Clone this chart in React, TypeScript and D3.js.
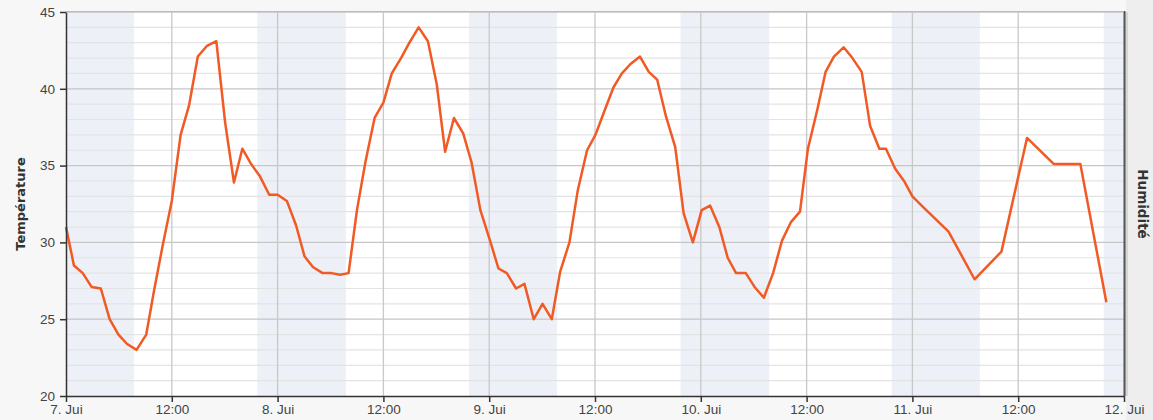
import React, { useEffect, useRef } from 'react'
import { select, scaleLinear, scaleTime, axisLeft, axisBottom, line, range } from 'd3'

// hours after 7. Jui 00:00
const hours = [
  0, 0.9, 1.9, 2.9, 3.95, 4.95, 5.95, 6.9, 8, 9.1, 10, 11, 12, 13, 13.95, 14.95, 16, 17.05, 18.05, 19.05,
  20, 21, 22, 23.05, 24, 25.05, 26.1, 27.05, 28, 29.1, 30.1, 31.1, 32.05, 33, 33.95, 35, 36, 36.95, 38, 38.95,
  40, 41.05, 42.05, 43, 44, 45.05, 46, 47, 48.05, 49.05, 50, 51.05, 52, 53.05, 54.05, 55.1, 56.05, 57.1, 58.05, 59.1,
  60.05, 61.1, 62.1, 63.05, 64, 65.1, 66.1, 67.05, 68.05, 69.1, 70.05, 71.1, 72.1, 73.05, 74.1, 75.05, 76, 77.1, 78.1, 79.15,
  80.2, 81.2, 82.2, 83.25, 84.15, 85.2, 86.15, 87.1, 88.2, 89.2, 90.25, 91.2, 92.25, 93, 94.05, 95.05, 96, 97.05, 100.1, 103.05,
  106.1, 109, 112.05, 115.05, 118
]
const temps = [
  31.0, 28.5, 28.0, 27.1, 27.0, 25.0, 24.0, 23.4, 23.0, 24.0, 26.9, 29.9, 32.7, 37.0, 38.9, 42.1, 42.8, 43.1, 37.8, 33.9,
  36.1, 35.1, 34.3, 33.1, 33.1, 32.7, 31.1, 29.1, 28.4, 28.0, 28.0, 27.9, 28.0, 32.1, 35.2, 38.1, 39.1, 41.0, 42.0, 43.0,
  44.0, 43.1, 40.3, 35.9, 38.1, 37.1, 35.2, 32.1, 30.2, 28.3, 28.0, 27.0, 27.3, 25.0, 26.0, 25.0, 28.1, 30.0, 33.4, 36.0,
  37.0, 38.6, 40.1, 41.0, 41.6, 42.1, 41.1, 40.6, 38.2, 36.2, 31.9, 30.0, 32.1, 32.4, 31.0, 29.0, 28.0, 28.0, 27.1, 26.4,
  28.0, 30.1, 31.3, 32.0, 36.1, 38.6, 41.1, 42.1, 42.7, 42.0, 41.1, 37.6, 36.1, 36.1, 34.8, 34.0, 33.0, 32.4, 30.7, 27.6,
  29.4, 36.8, 35.1, 35.1, 26.1
]

// night (sunset -> sunrise), hours after 7. Jui 00:00
const nightStart = [-2.3, 21.7, 45.7, 69.7, 93.65, 117.7]
const nightEnd = [7.7, 31.75, 55.7, 79.75, 103.65, 127.7]

const tempTicks = [20, 25, 30, 35, 40, 45]
const dayLabels = ['7. Jui', '8. Jui', '9. Jui', '10. Jui', '11. Jui', '12. Jui']

const W = 1153
const H = 420
const margin = { left: 66, right: 29, top: 12, bottom: 24 }
const start = new Date(2015, 6, 7)
const at = (h: number) => new Date(start.getTime() + h * 3600 * 1000)

export default function App() {
  const svgRef = useRef<SVGSVGElement | null>(null)

  useEffect(() => {
    if (!svgRef.current) return
    const svg = select(svgRef.current)
    svg.selectAll('*').remove()

    const x = scaleTime().domain([at(0), at(120)]).range([margin.left, W - margin.right])
    const y = scaleLinear().domain([20, 45]).range([H - margin.bottom, margin.top])
    const x0 = x.range()[0], x1 = x.range()[1]
    const y0 = y.range()[0], y1 = y.range()[1]

    svg.append('rect').attr('width', W).attr('height', H).attr('fill', '#f7f7f7')
    svg.append('rect').attr('x', x1 + 2).attr('width', W - x1).attr('height', H).attr('fill', '#eeeeee')
    svg.append('rect').attr('x', x1 + 1).attr('width', 3).attr('y', y1).attr('height', y0 - y1).attr('fill', '#d6d6d6')
    svg.append('rect').attr('x', x0).attr('y', y1).attr('width', x1 - x0).attr('height', y0 - y1).attr('fill', '#ffffff')

    // night bands
    svg.append('g')
      .selectAll('rect')
      .data(nightStart.map((s, i) => [Math.max(s, 0), Math.min(nightEnd[i], 120)]))
      .join('rect')
      .attr('x', d => x(at(d[0])))
      .attr('width', d => x(at(d[1])) - x(at(d[0])))
      .attr('y', y1)
      .attr('height', y0 - y1)
      .attr('fill', '#edf0f7')

    // horizontal grid
    svg.append('g')
      .selectAll('line')
      .data(range(21, 45).filter(v => v % 5 !== 0))
      .join('line')
      .attr('x1', x0).attr('x2', x1)
      .attr('y1', d => y(d)).attr('y2', d => y(d))
      .attr('stroke', '#e3e3e3').attr('stroke-width', 1.2)
    svg.append('g')
      .selectAll('line')
      .data(tempTicks.slice(1))
      .join('line')
      .attr('x1', x0).attr('x2', x1)
      .attr('y1', d => y(d)).attr('y2', d => y(d))
      .attr('stroke', '#c6c6c6').attr('stroke-width', 1.3)

    // vertical grid
    const xTicks = range(0, 121, 12).map(at)
    svg.append('g')
      .selectAll('line')
      .data(xTicks.slice(1, -1))
      .join('line')
      .attr('x1', d => x(d)).attr('x2', d => x(d))
      .attr('y1', y1).attr('y2', y0)
      .attr('stroke', '#c8c8c8').attr('stroke-width', 1.3)

    // temperature line
    const path = line<number>()
      .x((_, i) => x(at(hours[i])))
      .y(d => y(d))
    svg.append('path')
      .datum(temps)
      .attr('d', path)
      .attr('fill', 'none')
      .attr('stroke', '#f15a24')
      .attr('stroke-width', 2.5)
      .attr('stroke-linejoin', 'round')

    // axes
    const yAxis = axisLeft(y).tickValues(tempTicks).tickSize(6).tickSizeOuter(0)
    const gy = svg.append('g').attr('transform', `translate(${x0},0)`).call(yAxis)
    gy.select('.domain').attr('stroke', '#333').attr('stroke-width', 1.5)
    gy.selectAll('.tick line').attr('stroke', '#333').attr('stroke-width', 1.5)
    gy.selectAll('.tick text')
      .attr('font-family', '"Liberation Sans", Arial, sans-serif')
      .attr('font-size', 13.5).attr('fill', '#444').attr('x', -11)

    const xAxis = axisBottom(x)
      .tickValues(xTicks)
      .tickSize(6)
      .tickSizeOuter(0)
      .tickFormat((d, i) => (i % 2 === 0 ? dayLabels[i / 2] : '12:00'))
    const gx = svg.append('g').attr('transform', `translate(0,${y0})`).call(xAxis)
    gx.select('.domain').attr('stroke', '#333').attr('stroke-width', 1.5)
    gx.selectAll('.tick line').attr('stroke', '#333').attr('stroke-width', 1.5)
    gx.selectAll('.tick text')
      .attr('font-family', '"Liberation Sans", Arial, sans-serif')
      .attr('font-size', 13.5).attr('fill', '#444').attr('y', 8)

    // right axis line
    svg.append('line')
      .attr('x1', x1 + 0.5).attr('x2', x1 + 0.5)
      .attr('y1', y1 - 1).attr('y2', y0)
      .attr('stroke', '#555').attr('stroke-width', 2)
    // top border
    svg.append('line')
      .attr('x1', x0).attr('x2', x1)
      .attr('y1', y1 - 0.5).attr('y2', y1 - 0.5)
      .attr('stroke', '#bbb').attr('stroke-width', 1)

    // axis titles
    svg.append('text')
      .attr('transform', `translate(25,${(y0 + y1) / 2}) rotate(-90)`)
      .attr('text-anchor', 'middle')
      .attr('font-family', '"DejaVu Sans", sans-serif')
      .attr('font-weight', 'bold')
      .attr('font-size', 13)
      .attr('fill', '#333')
      .text('Température')
    svg.append('text')
      .attr('transform', `translate(1138,${(y0 + y1) / 2}) rotate(90)`)
      .attr('text-anchor', 'middle')
      .attr('font-family', '"DejaVu Sans", sans-serif')
      .attr('font-weight', 'bold')
      .attr('font-size', 13.5)
      .attr('fill', '#333')
      .text('Humidité')
  }, [])

  return (
    <svg
      ref={svgRef}
      width={W}
      height={H}
      style={{ position: 'absolute', left: 0, top: 0, display: 'block' }}
    />
  )
}
